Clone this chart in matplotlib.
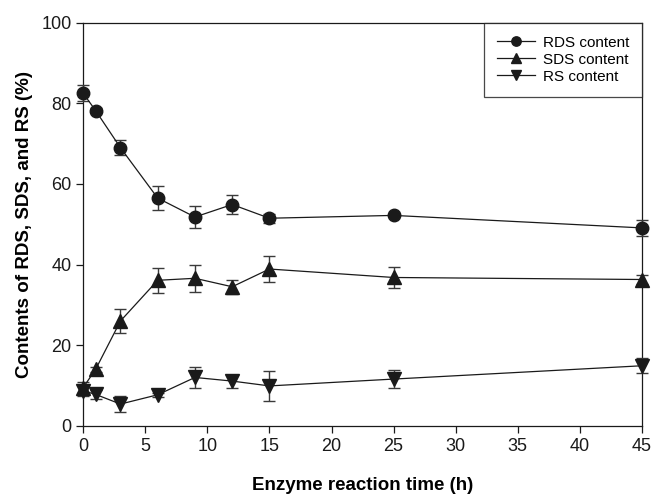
import matplotlib.pyplot as plt

plt.rcParams['font.family'] = ['Liberation Sans', 'DejaVu Sans']

# reaction time (h)
time_h = [0, 1, 3, 6, 9, 12, 15, 25, 45]

rds = [82.5, 78.2, 69.0, 56.5, 51.8, 54.9, 51.5, 52.2, 49.1]
rds_err = [2.0, 0.6, 1.9, 3.0, 2.7, 2.4, 1.1, 0.5, 2.0]

sds = [9.5, 14.0, 26.0, 36.1, 36.6, 34.5, 38.9, 36.8, 36.3]
sds_err = [1.4, 0.6, 3.0, 3.1, 3.3, 1.8, 3.2, 2.5, 1.1]

rs = [8.7, 7.8, 5.4, 7.7, 12.0, 11.1, 9.9, 11.6, 14.9]
rs_err = [1.4, 1.2, 2.0, 0.5, 2.6, 1.6, 3.7, 2.3, 1.9]

x_ticks = [0, 5, 10, 15, 20, 25, 30, 35, 40, 45]
y_ticks = [0, 20, 40, 60, 80, 100]

fig = plt.figure(figsize=(6.55, 4.94), dpi=100)
ax = fig.add_axes([0.127, 0.138, 0.853, 0.816])

series = [
    (rds, rds_err, 'o', 9, 'RDS content'),
    (sds, sds_err, '^', 9.5, 'SDS content'),
    (rs, rs_err, 'v', 9.5, 'RS content'),
]
handles = []
for vals, errs, mk, ms, lab in series:
    cont = ax.errorbar(time_h, vals, yerr=errs, fmt='-', marker=mk, markersize=ms,
                       color='#1a1a1a', ecolor='#3a3a3a', elinewidth=1.0,
                       capsize=4.3, capthick=1.0, linewidth=0.9, label=lab,
                       clip_on=False, zorder=3)
    handles.append(cont[0])

ax.set_xlim(0, 45)
ax.set_ylim(0, 100)
ax.set_xticks(x_ticks)
ax.set_yticks(y_ticks)
ax.tick_params(direction='out', length=5, width=0.9, labelsize=13,
               top=False, right=False, colors='#1a1a1a')
for sp in ax.spines.values():
    sp.set_linewidth(0.9)
    sp.set_color('#1a1a1a')

ax.set_xlabel('Enzyme reaction time (h)', fontsize=13.5, fontweight='bold', labelpad=16)
ax.set_ylabel('Contents of RDS, SDS, and RS (%)', fontsize=13.5, fontweight='bold', labelpad=6)

leg = ax.legend(handles=handles, labels=[s[4] for s in series],
                loc='upper right', fontsize=11, borderaxespad=0, frameon=True,
                fancybox=False, edgecolor='#1a1a1a', handlelength=2.5,
                markerscale=0.75, labelspacing=0.2, borderpad=0.85,
                handletextpad=0.5)
leg.get_frame().set_linewidth(0.9)

fig.savefig('out.png', dpi=100)
